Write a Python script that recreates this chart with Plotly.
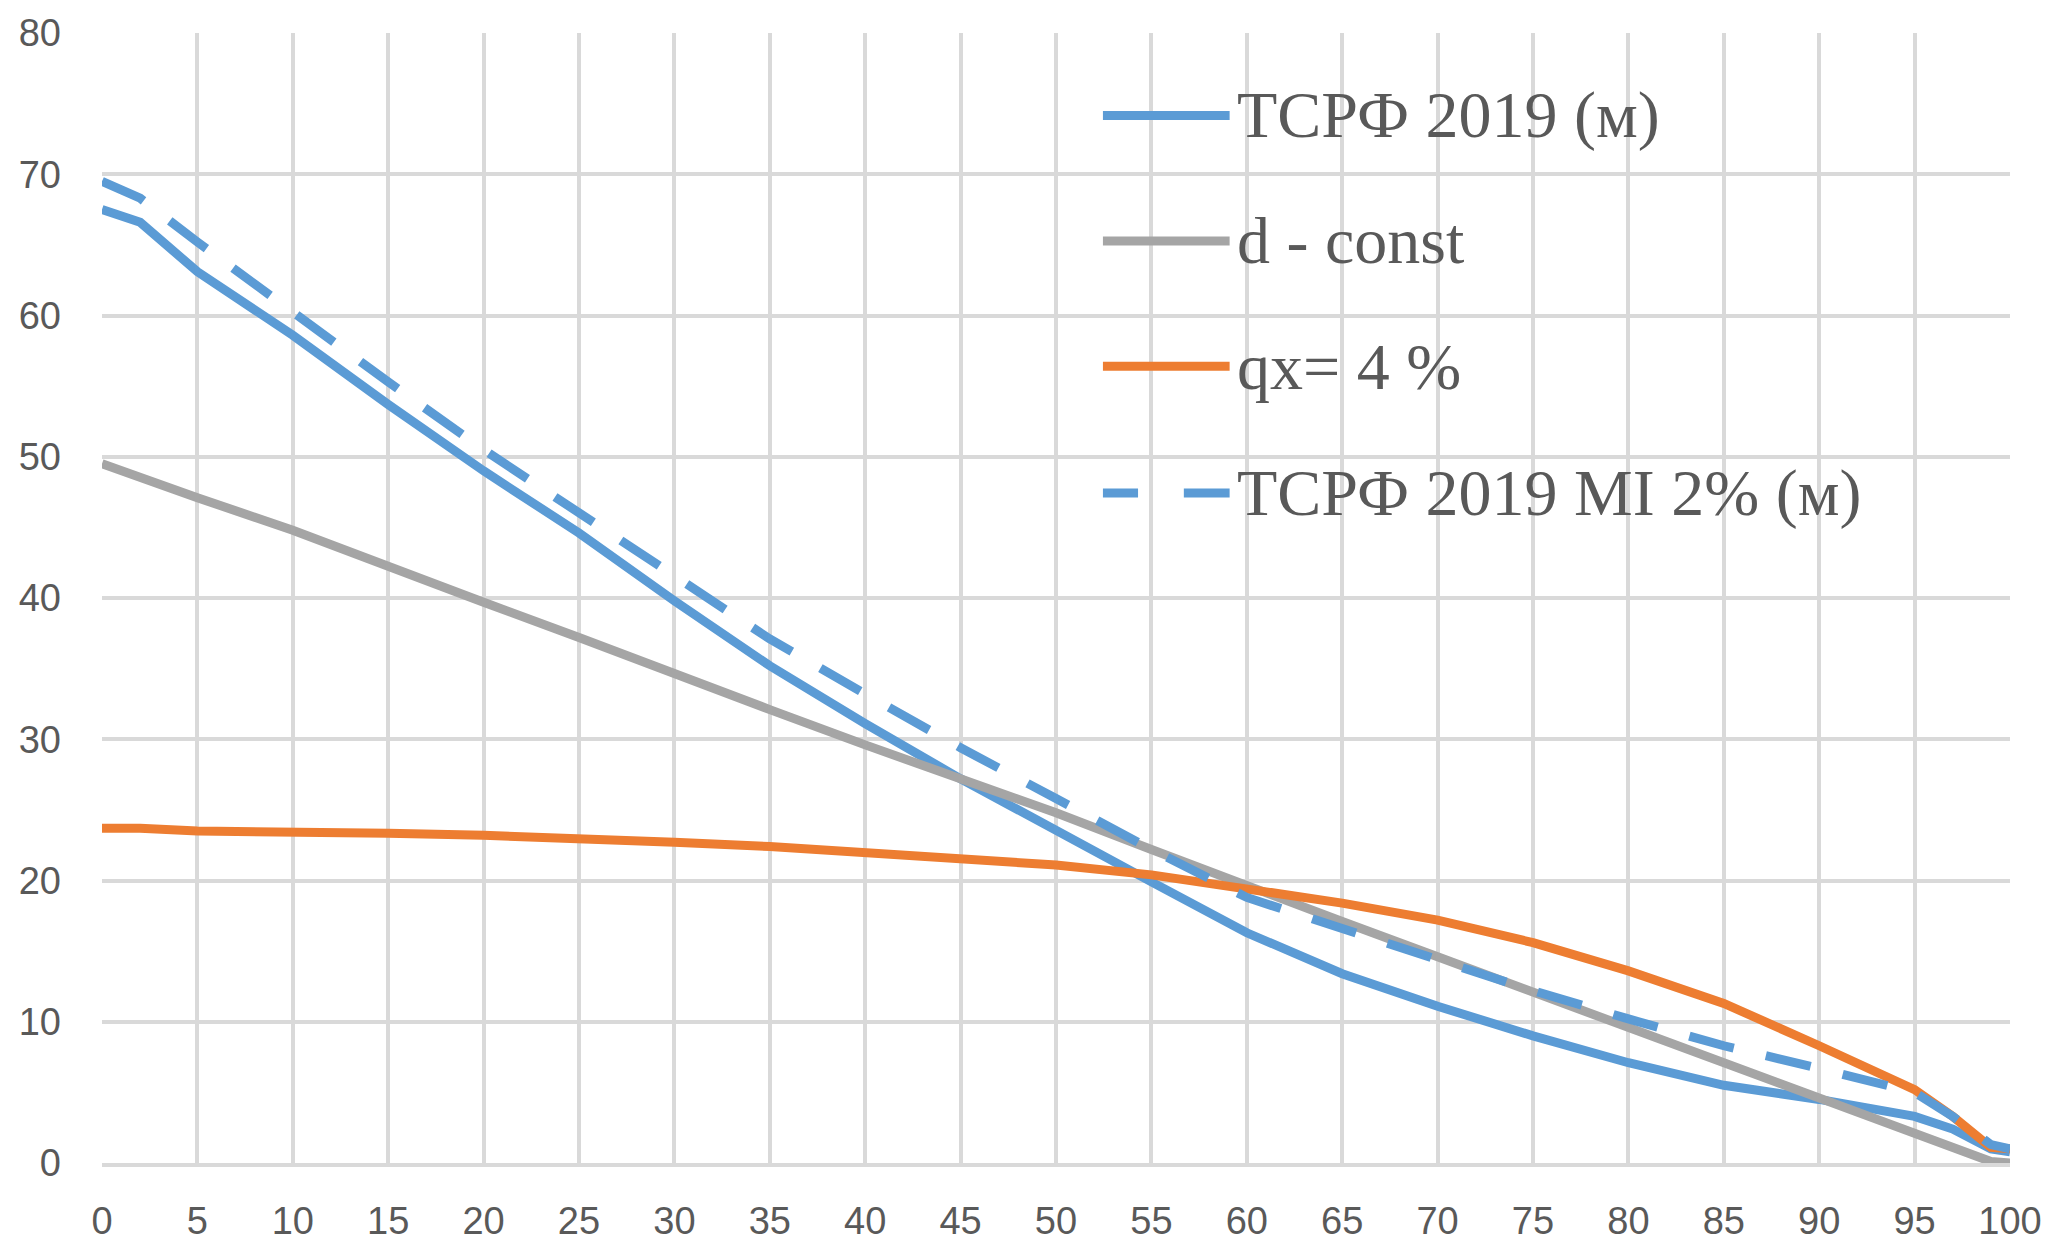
import plotly.graph_objects as go

# Data
ages = [0, 2, 5, 10, 15, 20, 25, 30, 35, 40, 45, 50, 55, 60, 65, 70, 75, 80, 85, 90, 95, 97, 99, 100]

tsrf_2019 = [67.5, 66.6, 63.1, 58.6, 53.7, 49.0, 44.6, 39.8, 35.2, 31.1, 27.2, 23.5, 19.9, 16.3,
             13.4, 11.1, 9.0, 7.1, 5.5, 4.5, 3.3, 2.4, 1.0, 0.8]
d_const = [49.5, 48.5, 47.1, 44.8, 42.2, 39.7, 37.2, 34.6, 32.1, 29.6, 27.2, 24.8, 22.2, 19.6,
           17.1, 14.6, 12.1, 9.7, 7.2, 4.6, 2.2, 1.2, 0.1, 0.0]
qx_4 = [23.7, 23.7, 23.5, 23.5, 23.35, 23.2, 23.0, 22.7, 22.4, 22.0, 21.6, 21.1, 20.4, 19.4,
        18.4, 17.2, 15.6, 13.6, 11.3, 8.3, 5.2, 3.3, 1.1, 1.0]
tsrf_2019_mi = [69.5, 68.3, 65.2, 60.2, 55.3, 50.5, 46.0, 41.5, 37.1, 33.2, 29.4, 25.8, 22.2, 18.8,
                16.6, 14.4, 12.2, 10.2, 8.3, 6.7, 5.0, 3.3, 1.3, 1.0]

series_names = ["ТСРФ 2019 (м)", "d - const", "qx= 4 %", "ТСРФ 2019 MI 2% (м)"]
series_values = [tsrf_2019, d_const, qx_4, tsrf_2019_mi]
series_colors = ["#5B9BD5", "#A5A5A5", "#ED7D31", "#5B9BD5"]
series_dash = ["solid", "solid", "solid", "46px,33px"]

x_ticks = list(range(0, 101, 5))
y_ticks = list(range(0, 81, 10))

LW = 9

fig = go.Figure()
for name, vals, col, dash in zip(series_names, series_values, series_colors, series_dash):
    fig.add_trace(go.Scatter(
        x=ages, y=vals, mode="lines", name=name,
        line=dict(color=col, width=LW, dash=dash),
        showlegend=False,
    ))

# Manual legend (matches the long line samples of the original)
legend_y = [0.927, 0.816, 0.705, 0.593]
for name, col, dash, ly in zip(series_names, series_colors, series_dash, legend_y):
    if dash == "solid":
        fig.add_shape(type="line", xref="paper", yref="paper",
                      x0=0.5246, x1=0.591, y0=ly, y1=ly,
                      line=dict(color=col, width=LW))
    else:
        fig.add_shape(type="line", xref="paper", yref="paper",
                      x0=0.5246, x1=0.543, y0=ly, y1=ly,
                      line=dict(color=col, width=LW))
        fig.add_shape(type="line", xref="paper", yref="paper",
                      x0=0.567, x1=0.591, y0=ly, y1=ly,
                      line=dict(color=col, width=LW))
    fig.add_annotation(x=0.594, y=ly, xref="paper", yref="paper",
                       text=name, showarrow=False, xanchor="left", yanchor="middle",
                       font=dict(family="Liberation Serif, Times New Roman, serif",
                                 size=66, color="#595959"))

grid_col = "#D9D9D9"
tick_font = dict(family="Liberation Sans Narrow, Liberation Sans, Arial, sans-serif",
                 size=38, color="#595959")

fig.update_xaxes(range=[0, 100], tickvals=x_ticks, ticktext=[str(v) for v in x_ticks],
                 showgrid=True, gridcolor=grid_col, gridwidth=4,
                 showline=True, linecolor=grid_col, linewidth=4,
                 zeroline=False, tickfont=tick_font, ticks="",
                 ticklabelstandoff=21, automargin=False)
fig.update_yaxes(range=[0, 80], tickvals=y_ticks, ticktext=[str(v) for v in y_ticks],
                 showgrid=True, gridcolor=grid_col, gridwidth=4,
                 showline=False, zeroline=False, tickfont=tick_font, ticks="",
                 ticklabelstandoff=40, automargin=False)

fig.update_layout(
    width=2051, height=1241,
    margin=dict(l=102, r=41, t=33, b=78),
    plot_bgcolor="white", paper_bgcolor="white",
    showlegend=False,
)

# Remove the default page margin so the figure fills the window exactly
fig.write_html("out.html",
               config={"displayModeBar": False},
               post_script="document.body.style.margin='0';document.body.style.overflow='hidden';")
